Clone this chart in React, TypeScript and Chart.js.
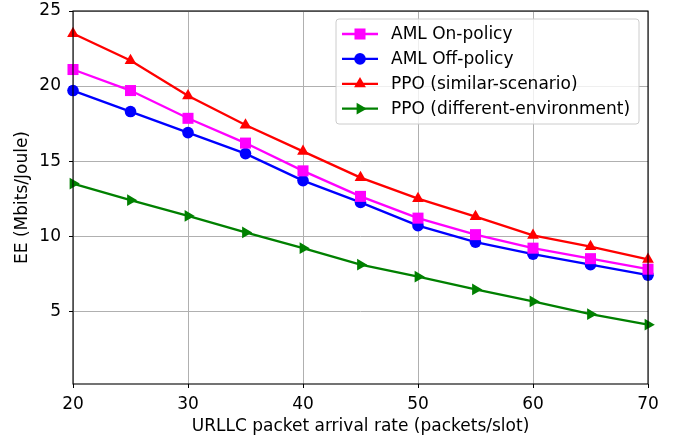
import React, { useEffect, useRef } from "react";
import { Chart, registerables } from "chart.js";
import { drawPoint } from "chart.js/helpers";

Chart.register(...registerables);

const xValues = [20, 25, 30, 35, 40, 45, 50, 55, 60, 65, 70];
const amlOnPolicy = [21.1, 19.7, 17.85, 16.2, 14.35, 12.65, 11.2, 10.1, 9.2, 8.5, 7.8];
const amlOffPolicy = [19.7, 18.3, 16.9, 15.5, 13.7, 12.25, 10.7, 9.6, 8.8, 8.1, 7.4];
const ppoSimilar = [23.5, 21.7, 19.35, 17.4, 15.65, 13.9, 12.5, 11.3, 10.05, 9.3, 8.45];
const ppoDifferent = [13.5, 12.4, 11.35, 10.25, 9.2, 8.1, 7.3, 6.45, 5.65, 4.8, 4.1];
const yTicks = [5, 10, 15, 20, 25];
const xTicks = [20, 30, 40, 50, 60, 70];

const FONT = "'DejaVu Sans', sans-serif";
const FS = 17;

const seriesDefs = [
  { label: "AML On-policy", data: amlOnPolicy, color: "#ff00ff", style: "rect", radius: 7.8, rotation: 0 },
  { label: "AML Off-policy", data: amlOffPolicy, color: "#0000ff", style: "circle", radius: 5.8, rotation: 0 },
  { label: "PPO (similar-scenario)", data: ppoSimilar, color: "#ff0000", style: "triangle", radius: 6.8, rotation: 0 },
  { label: "PPO (different-environment)", data: ppoDifferent, color: "#008000", style: "triangle", radius: 6.8, rotation: 90 },
];

const framePlugin = {
  id: "frame",
  afterDatasetsDraw(chart: any) {
    const { ctx, chartArea } = chart;
    ctx.save();
    ctx.strokeStyle = "#000";
    ctx.lineWidth = 1.1;
    ctx.strokeRect(chartArea.left, chartArea.top, chartArea.right - chartArea.left, chartArea.bottom - chartArea.top);
    ctx.restore();
  },
};

const legendPlugin = {
  id: "customLegend",
  afterDraw(chart: any) {
    const { ctx } = chart;
    const bx = 336, by = 19, bw = 303, bh = 105;
    ctx.save();
    ctx.beginPath();
    const r = 3;
    ctx.moveTo(bx + r, by);
    ctx.arcTo(bx + bw, by, bx + bw, by + bh, r);
    ctx.arcTo(bx + bw, by + bh, bx, by + bh, r);
    ctx.arcTo(bx, by + bh, bx, by, r);
    ctx.arcTo(bx, by, bx + bw, by, r);
    ctx.closePath();
    ctx.fillStyle = "rgba(255,255,255,0.8)";
    ctx.fill();
    ctx.strokeStyle = "#cccccc";
    ctx.lineWidth = 1;
    ctx.stroke();
    seriesDefs.forEach((s, i) => {
      const y = 34 + i * 24.9;
      ctx.strokeStyle = s.color;
      ctx.lineWidth = 2.3;
      ctx.beginPath();
      ctx.moveTo(342, y);
      ctx.lineTo(378, y);
      ctx.stroke();
      ctx.fillStyle = s.color;
      drawPoint(ctx, { pointStyle: s.style as any, radius: s.radius, rotation: s.rotation, borderWidth: 0 }, 360, y);
      ctx.fillStyle = "#000";
      ctx.font = `${FS}px ${FONT}`;
      ctx.textBaseline = "middle";
      ctx.textAlign = "left";
      ctx.fillText(s.label, 391, y + 1);
    });
    ctx.restore();
  },
};

export default function App() {
  const ref = useRef<HTMLCanvasElement>(null);
  useEffect(() => {
    document.body.style.margin = "0";
    const canvas = ref.current!;
    const chart = new Chart(canvas, {
      type: "line",
      data: {
        datasets: seriesDefs.map((s) => ({
          label: s.label,
          data: xValues.map((x, i) => ({ x, y: s.data[i] })),
          borderColor: s.color,
          backgroundColor: s.color,
          borderWidth: 2.3,
          pointStyle: s.style as any,
          pointRadius: s.radius,
          pointRotation: s.rotation,
          pointBorderWidth: 0,
          pointBackgroundColor: s.color,
          tension: 0,
          clip: false as any,
        })),
      },
      options: {
        animation: false,
        responsive: false,
        devicePixelRatio: 1,
        layout: { padding: { left: 0, right: 35, top: 11, bottom: 0 } },
        plugins: { legend: { display: false }, tooltip: { enabled: false } },
        scales: {
          x: {
            type: "linear",
            min: 20,
            max: 70,
            afterBuildTicks: (scale: any) => {
              scale.ticks = xTicks.map((v) => ({ value: v }));
            },
            afterFit: (scale: any) => {
              scale.height = 57;
              scale.paddingLeft = 0;
              scale.paddingRight = 0;
            },
            ticks: { color: "#000", font: { family: FONT, size: FS }, padding: 6, maxRotation: 0 },
            grid: { color: "#b0b0b0", lineWidth: 1, tickColor: "#000", tickLength: 4 },
            border: { display: false },
            title: {
              display: true,
              text: "URLLC packet arrival rate (packets/slot)",
              color: "#000",
              font: { family: FONT, size: FS },
              padding: { top: 0, bottom: 3.8 },
            },
          },
          y: {
            type: "linear",
            min: 0.15,
            max: 25,
            afterBuildTicks: (scale: any) => {
              scale.ticks = yTicks.map((v) => ({ value: v }));
            },
            afterFit: (scale: any) => {
              scale.width = 73;
              scale.paddingTop = 0;
              scale.paddingBottom = 0;
            },
            ticks: { color: "#000", font: { family: FONT, size: FS }, padding: 8 },
            grid: { color: "#b0b0b0", lineWidth: 1, tickColor: "#000", tickLength: 4 },
            border: { display: false },
            title: {
              display: true,
              text: "EE (Mbits/Joule)",
              color: "#000",
              font: { family: FONT, size: FS },
              padding: { top: 12.8, bottom: 0 },
            },
          },
        },
      },
      plugins: [framePlugin, legendPlugin],
    });
    return () => chart.destroy();
  }, []);
  return <canvas ref={ref} width={683} height={441} style={{ display: "block" }} />;
}
